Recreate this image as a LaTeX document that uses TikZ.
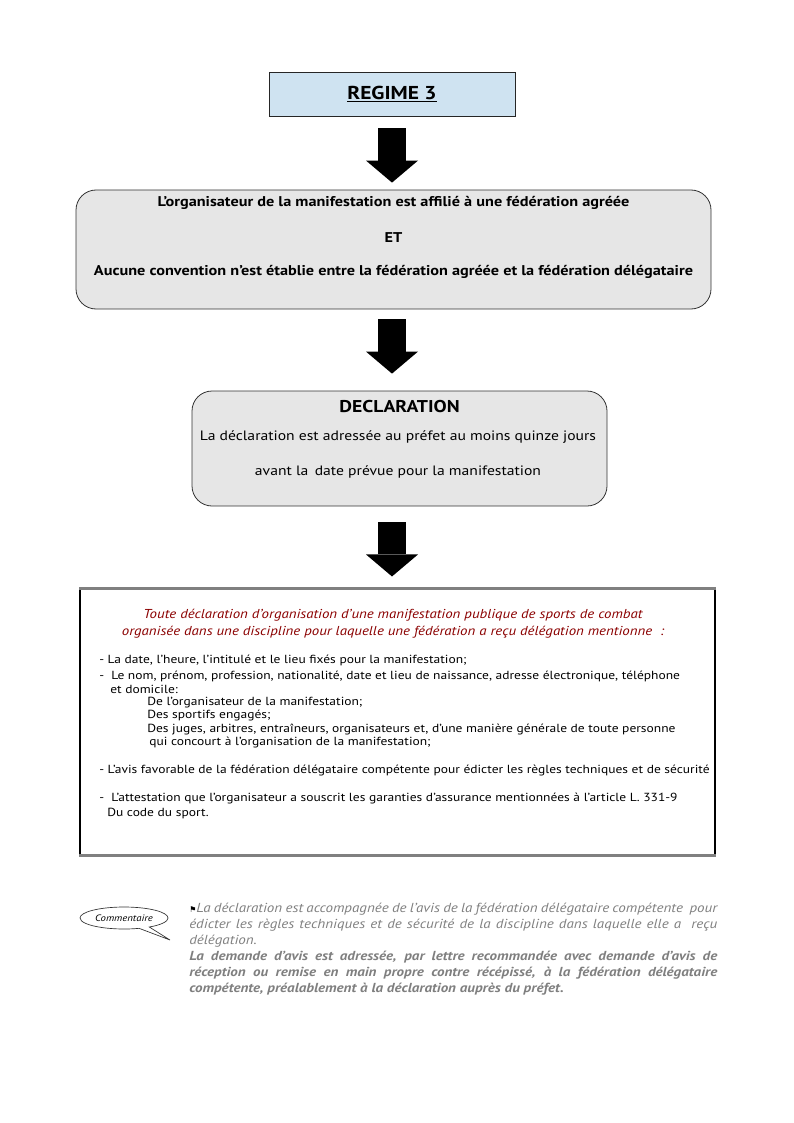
\documentclass[tikz,border=0pt]{standalone}
\usepackage{fontspec}
\setmainfont{PT Sans}[FakeStretch=1.15]
\newfontfamily\flagfont{DejaVu Sans}
\usetikzlibrary{arrows.meta,shapes.callouts}
\definecolor{regimeblue}{HTML}{CFE3F1}
\definecolor{boxgrey}{HTML}{E6E6E6}
\definecolor{titlered}{HTML}{8B0000}
\definecolor{notegrey}{HTML}{7F7F7F}

\begin{document}
\begin{tikzpicture}[
  x=0.75pt,
  y=-0.75pt,
  font=\rmfamily,
  regime/.style={
    draw=black!85,
    fill=regimeblue,
    line width=0.6pt,
    minimum width=184.5pt,
    minimum height=33pt,
    inner sep=0pt
  },
  stepbox/.style={
    draw=black!80,
    fill=boxgrey,
    line width=0.6pt,
    rounded corners=15pt,
    inner sep=0pt
  },
  notice/.style={
    draw=black,
    fill=white,
    line width=0.8pt,
    minimum width=476.25pt,
    minimum height=199.5pt,
    inner sep=0pt
  },
  bigarrow/.style={
    line width=21pt,
    draw=black,
    -{Triangle[width=39pt,length=16.5pt,line width=0pt]}
  },
  item/.style={
    anchor=west,
    inner sep=0pt,
    font=\fontsize{8.8}{10}\selectfont
  },
  boldline/.style={
    align=center,
    inner sep=0pt,
    font=\bfseries\fontsize{10.6}{13}\selectfont
  }
]
  \useasboundingbox (0,0) rectangle (793,1123);

  % Top of the chart: the regime and its condition.
  \node[regime] (regime) at (392,94) {
    \fontsize{14}{16}\selectfont\bfseries\underline{REGIME 3}
  };

  \node[stepbox,minimum width=476.25pt,minimum height=89.25pt] (cond) at (393.5,249.5) {};
  \node[boldline] (condtext) at (393.5,237.5) {
    L’organisateur de la manifestation est affilié à une fédération agréée\\[14pt]
    ET\\[11.75pt]
    Aucune convention n’est établie entre la fédération agréée et la fédération délégataire
  };

  \node[stepbox,minimum width=311.25pt,minimum height=86.25pt] (decl) at (399.5,448.5) {};
  \node[inner sep=0pt,font=\bfseries\fontsize{12.8}{15}\selectfont] (decltitle) at (399.5,407) {DECLARATION};
  \node[inner sep=0pt,align=center,font=\fontsize{10.2}{13}\selectfont] (decltext) at (398,454.5) {
    La déclaration est adressée au préfet au moins quinze jours\\[13.25pt]
    avant la\, date prévue pour la manifestation
  };

  % Block arrows between the steps.
  \draw[bigarrow,shorten <=9pt,shorten >=5.25pt] (regime.south) -- (regime.south |- cond.north);
  \draw[bigarrow,shorten <=7.5pt,shorten >=12.75pt] (cond.south -| regime.south) -- (regime.south |- decl.north);

  % Contents of the declaration.
  \node[notice] (list) at (397.5,722) {};
  \draw[bigarrow,shorten <=12pt,shorten >=9pt] (decl.south -| regime.south) -- (regime.south |- list.north);
  \draw[draw=gray,line width=1.6pt] (list.north west) -- (list.north east);
  \draw[draw=gray,line width=1.6pt] (list.south west) -- (list.south east);

  \node[align=center,inner sep=0pt,text=titlered,font=\itshape\fontsize{9.7}{12.75}\selectfont] (listtitle) at (393,623.5) {
    Toute déclaration d’organisation d’une manifestation publique de sports de combat\\
    organisée dans une discipline pour laquelle une fédération a reçu délégation mentionne~ :
  };

  \node[item] (itemdate) at (99,660) {- La date, l’heure, l’intitulé et le lieu fixés pour la manifestation;};
  \node[item] (itemname) at (99,676) {-\ \ Le nom, prénom, profession, nationalité, date et lieu de naissance, adresse électronique, téléphone};
  \node[item] (itemhome) at (110,689) {et domicile:};
  \node[item] (itemorg) at (147,703) {De l’organisateur de la manifestation;};
  \node[item] (itemsport) at (147,716) {Des sportifs engagés;};
  \node[item] (itemjudge) at (147,729) {Des juges, arbitres, entraîneurs, organisateurs et, d’une manière générale de toute personne};
  \node[item] (itemhelp) at (149,743) {qui concourt à l’organisation de la manifestation;};
  \node[item] (itemavis) at (99,771) {- L’avis favorable de la fédération délégataire compétente pour édicter les règles techniques et de sécurité};
  \node[item] (itemassur) at (99,799) {-\ \ L’attestation que l’organisateur a souscrit les garanties d’assurance mentionnées à l’article L. 331-9};
  \node[item] (itemcode) at (107,814) {Du code du sport.};

  % Comment at the foot of the page.
  \node[ellipse callout,draw=black!80,line width=0.5pt,fill=white,
    minimum width=66pt,minimum height=16.5pt,inner sep=0pt,
    callout absolute pointer={(170,940)},
    font=\itshape\fontsize{7}{8}\selectfont] (comment) at (124,918) {Commentaire};

  \node[anchor=north west,inner sep=0pt,text width=396pt,align=justify,text=notegrey,
    font=\itshape\fontsize{9.8}{12}\selectfont] (commenttext) at (189,903) {
    {\flagfont\upshape\fontsize{6}{6}\selectfont\textcolor{black}{⚑}}La déclaration est accompagnée de l'avis de la fédération délégataire compétente\ \ pour\linebreak
    édicter les règles techniques et de sécurité de la discipline dans laquelle elle a\ \ reçu\linebreak
    délégation.\\
    \bfseries La demande d'avis est adressée, par lettre recommandée avec demande d'avis de\linebreak
    réception ou remise en main propre contre récépissé, à la fédération délégataire\linebreak
    compétente, préalablement à la déclaration auprès du préfet.
  };
\end{tikzpicture}
\end{document}
